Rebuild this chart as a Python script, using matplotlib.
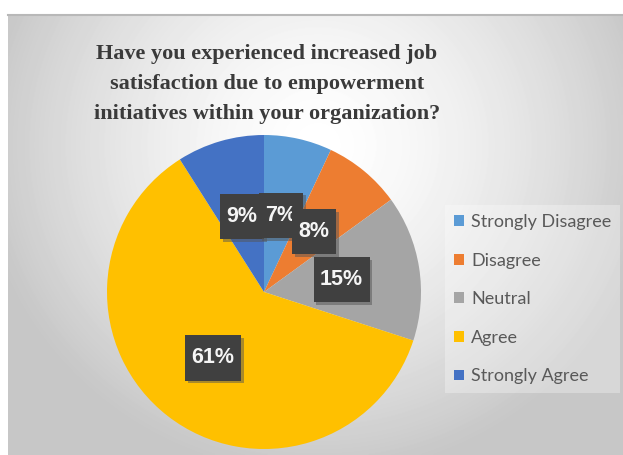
import numpy as np
import matplotlib.pyplot as plt
import matplotlib.patheffects as pe

labels = ['Strongly Disagree', 'Disagree', 'Neutral', 'Agree', 'Strongly Agree']
shares = [7, 8, 15, 61, 9]
colors = ['#5B9BD5', '#ED7D31', '#A5A5A5', '#FFC000', '#4472C4']
title = ('Have you experienced increased job\n'
         'satisfaction due to empowerment\n'
         'initiatives within your organization?')

W, H = 623, 455
fig = plt.figure(figsize=(W / 100, H / 100), dpi=100)
fig.patch.set_facecolor('white')

# radial grey gradient behind the chart
bg = fig.add_axes([8 / W, 0, 1 - 8 / W, 440 / H])
yy, xx = np.mgrid[0:440, 0:615]
r = np.hypot((xx - 310) / 340.0, (yy - 130) / 330.0)
shade = 1 - 0.22 * np.clip(r, 0, 1) ** 1.5
bg.imshow(shade, cmap='gray', vmin=0, vmax=1, aspect='auto', interpolation='bilinear')
bg.set_xticks([])
bg.set_yticks([])
for s in ['bottom', 'left', 'right']:
    bg.spines[s].set_visible(False)
bg.spines['top'].set_color('#b8b8b8')
bg.spines['top'].set_linewidth(1.5)

# pie
ax = fig.add_axes([107 / W, 6 / H, 314 / W, 314 / H])
wedges, texts, autotexts = ax.pie(
    shares, colors=colors, startangle=90, counterclock=False,
    autopct='%.0f%%', pctdistance=0.5,
    textprops=dict(color='#f5f5f5', fontsize=15.5, fontweight='bold',
                   family='Liberation Sans'))
ax.set_xlim(-1, 1)
ax.set_ylim(-1, 1)

for t in autotexts:
    # taller than wide padding, like the data callouts in the original
    t.set_bbox(dict(boxstyle='square,pad=0.3', mutation_aspect=1.9,
                    facecolor='#404040', edgecolor='none'))
    t.get_bbox_patch().set_path_effects([
        pe.SimplePatchShadow(offset=(2, -2), shadow_rgbFace='#555555', alpha=0.5),
        pe.Normal()])

# stacking: 9% underneath 7%, 7% underneath 8%
autotexts[4].set_zorder(2.5)
autotexts[0].set_zorder(2.7)

# nudge the big label a bit outward
x, y = autotexts[3].get_position()
autotexts[3].set_position((x * 1.06, y * 1.06))

leg = fig.legend(wedges, labels, loc='upper left',
                 bbox_to_anchor=(436 / W, 1 - 196 / H),
                 prop=dict(family='Lato', size=13),
                 labelcolor='#595959',
                 handlelength=0.55, handleheight=0.55, handletextpad=0.4,
                 labelspacing=1.25, borderpad=0.5,
                 frameon=True, fancybox=False)
leg.get_frame().set_facecolor('white')
leg.get_frame().set_alpha(0.3)
leg.get_frame().set_edgecolor('none')

fig.text(267 / W, 1 - 84 / H, title, ha='center', va='center',
         fontsize=16, family='Liberation Serif', fontweight='bold',
         color='#3a3a3a', linespacing=1.68)

fig.savefig('out.png', dpi=100)
